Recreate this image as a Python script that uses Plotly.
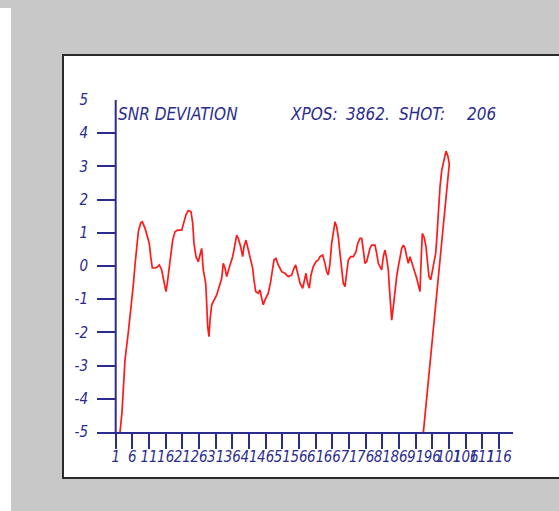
import plotly.graph_objects as go

# Sample positions and SNR deviation values (dB); the trace is drawn as a closed path
sample_pos = [
    1.0, 2.3, 2.89, 3.28, 3.79, 4.78, 5.8, 6.28, 6.79, 7.3, 7.78, 8.5, 8.98, 9.79, 10.48,
    11.08, 11.5, 11.98, 12.79, 13.48, 14.08, 14.8, 15.28, 15.79, 16.09, 16.48, 17.08,
    17.59, 18.1, 18.79, 19.6, 20.8, 21.49, 22.09, 22.78, 23.59, 24.1, 24.49, 25.09, 25.78,
    26.29, 26.8, 27.28, 28.0, 28.3, 28.6, 28.99, 29.29, 29.8, 30.49, 31.3, 32.08, 32.8,
    33.28, 33.79, 34.3, 34.78, 35.29, 36.1, 36.79, 37.3, 37.78, 38.5, 39.1, 39.49, 40.09,
    40.6, 41.29, 42.1, 42.49, 43.0, 43.78, 44.29, 44.8, 45.28, 45.79, 46.78, 47.5, 47.98,
    48.49, 49.09, 49.78, 50.8, 51.79, 52.78, 53.8, 54.49, 55.0, 55.6, 56.29, 57.1, 57.58,
    58.09, 58.48, 59.08, 59.59, 60.28, 61.09, 61.78, 62.29, 63.1, 63.79, 64.3, 64.78,
    65.29, 65.8, 66.28, 66.79, 67.3, 67.78, 68.29, 68.8, 69.28, 69.79, 70.3, 70.78, 71.5,
    72.29, 73.1, 73.61, 74.29, 74.8, 75.29, 75.79, 76.3, 76.79, 77.29, 77.8, 78.79, 79.3,
    79.79, 80.29, 80.8, 81.29, 81.79, 82.3, 82.79, 83.09, 83.51, 83.81, 84.29, 84.8, 85.3,
    85.79, 86.3, 86.81, 87.29, 87.8, 88.31, 88.79, 89.3, 89.81, 90.29, 90.8, 91.31, 91.79,
    92.3, 92.6, 92.99, 93.5, 94.1, 94.49, 95.0, 95.51, 95.99, 96.5, 97.0, 97.31, 97.79,
    98.3, 98.81, 99.5, 100.1, 100.61, 101.09,
]
snr_deviation = [
    -101.0, -5.0, -4.4, -3.58, -2.83, -2.0, -1.12, -0.57, 0.03, 0.58, 1.03, 1.3, 1.33, 1.14,
    0.88, 0.68, 0.28, -0.06, -0.06, -0.03, 0.03, -0.12, -0.37, -0.72, -0.77, -0.52, -0.02,
    0.43, 0.78, 1.03, 1.08, 1.08, 1.29, 1.54, 1.67, 1.64, 1.29, 0.68, 0.28, 0.13, 0.33,
    0.53, -0.12, -0.52, -1.12, -1.83, -2.13, -1.63, -1.17, -1.02, -0.87, -0.62, -0.37,
    0.08, -0.06, -0.32, -0.12, 0.03, 0.28, 0.63, 0.93, 0.83, 0.58, 0.28, 0.58, 0.78, 0.58,
    0.23, -0.07, -0.42, -0.77, -0.82, -0.72, -0.97, -1.17, -1.02, -0.82, -0.47, -0.07,
    0.18, 0.23, 0.03, -0.17, -0.22, -0.32, -0.27, -0.07, 0.03, -0.22, -0.52, -0.67, -0.42,
    -0.22, -0.47, -0.67, -0.27, -0.02, 0.13, 0.18, 0.28, 0.33, 0.08, -0.17, -0.27, 0.08,
    0.68, 1.08, 1.33, 1.18, 0.88, 0.38, -0.22, -0.52, -0.62, -0.22, 0.18, 0.28, 0.28, 0.43,
    0.68, 0.83, 0.83, 0.48, 0.08, 0.13, 0.33, 0.53, 0.63, 0.63, 0.38, 0.08, -0.02, -0.12,
    0.28, 0.48, 0.23, -0.12, -0.62, -1.32, -1.63, -1.23, -0.72, -0.32, -0.02, 0.28, 0.53,
    0.63, 0.53, 0.28, 0.08, 0.28, 0.13, -0.07, -0.22, -0.37, -0.57, -0.77, 0.08, 0.98,
    0.88, 0.58, 0.18, -0.32, -0.42, -0.17, 0.08, 0.38, 0.78, 1.78, 2.38, 2.88, 3.23, 3.46,
    3.33, 3.08,
]

x_tick_vals = [1, 6, 11, 16, 21, 26, 31, 36, 41, 46, 51, 56, 61, 66, 71, 76, 81, 86, 91,
               96, 101, 106, 111, 116]
x_tick_text = [str(v) for v in x_tick_vals]
y_tick_vals = [5, 4, 3, 2, 1, 0, -1, -2, -3, -4, -5]
y_tick_text = ["5", "4", "3", "2", "1", "0", "-1", "-2", "-3", "-4", "-5"]

title_text = "SNR DEVIATION"
info_parts = [("XPOS:", 288), ("3862.", 344), ("SHOT:", 397), ("206", 465)]

NAVY = "#2c2c8e"
FONT = "DejaVu Sans Condensed, Liberation Sans Narrow, Liberation Sans, sans-serif"

W, H = 559, 511
L, R, T, B = 97, 46, 100, 79
PW, PH = W - L - R, H - T - B


def px(xp):
    return (xp - L) / PW


def py(yp):
    return (H - B - yp) / PH


# close the path back to its first sample
line_x = sample_pos + [sample_pos[0]]
line_y = snr_deviation + [snr_deviation[0]]

fig = go.Figure()
fig.add_trace(go.Scatter(
    x=line_x, y=line_y, mode="lines",
    line=dict(color="#ff1a1a", width=1.7),
    hoverinfo="skip", showlegend=False,
))

shapes = [
    # page strip on the left
    dict(type="rect", xref="paper", yref="paper", x0=px(0), x1=px(11), y0=py(520), y1=py(8),
         fillcolor="white", line=dict(width=0), layer="below"),
    # framed chart panel
    dict(type="rect", xref="paper", yref="paper", x0=px(63), x1=px(575), y0=py(478), y1=py(55),
         fillcolor="white", line=dict(color="#2a2a2a", width=2), layer="below"),
    # vertical axis through sample 1
    dict(type="line", xref="x", yref="y", x0=1, x1=1, y0=-5, y1=5,
         line=dict(color=NAVY, width=2)),
]

annotations = [
    dict(xref="paper", yref="paper", x=px(116), y=py(114), xanchor="left", yanchor="middle",
         text=title_text, showarrow=False,
         font=dict(family=FONT, size=17, color=NAVY, style="italic")),
]
for txt, xp in info_parts:
    annotations.append(dict(
        xref="paper", yref="paper", x=px(xp), y=py(114), xanchor="left", yanchor="middle",
        text=txt, showarrow=False,
        font=dict(family=FONT, size=17, color=NAVY, style="italic")))

fig.update_layout(
    width=W, height=H,
    margin=dict(l=L, r=R, t=T, b=B, pad=0),
    paper_bgcolor="#c8c8c8",
    plot_bgcolor="rgba(0,0,0,0)",
    shapes=shapes,
    annotations=annotations,
    xaxis=dict(
        range=[1 - (115.7 - L) / 3.333, 1 + (513 - 115.7) / 3.333],
        showgrid=False, zeroline=False,
        showline=True, linecolor=NAVY, linewidth=2,
        tickmode="array", tickvals=x_tick_vals, ticktext=x_tick_text,
        ticks="outside", ticklen=15, tickwidth=2, tickcolor=NAVY,
        tickangle=0, ticklabelstandoff=-5,
        tickfont=dict(family=FONT, size=15, color=NAVY, style="italic"),
    ),
    yaxis=dict(
        range=[-5, 5],
        showgrid=False, zeroline=False, showline=False,
        tickmode="array", tickvals=y_tick_vals, ticktext=y_tick_text,
        ticks="inside", ticklen=19, tickwidth=2, tickcolor=NAVY,
        ticklabelstandoff=8,
        tickfont=dict(family=FONT, size=15, color=NAVY, style="italic"),
    ),
)

fig.write_html("out.html")
